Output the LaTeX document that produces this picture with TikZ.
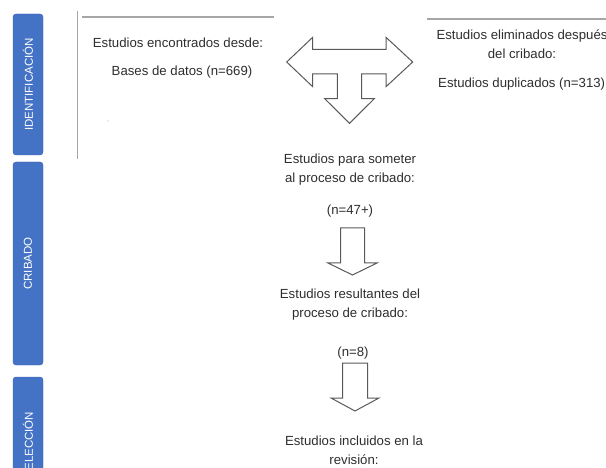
\documentclass[tikz,border=0pt]{standalone}
\usepackage{fontspec}
\setmainfont{Liberation Sans}
\usetikzlibrary{positioning}
\definecolor{barblue}{HTML}{4472C4}
\definecolor{bardark}{HTML}{3A62AD}
\definecolor{rulegray}{HTML}{A6A6A6}

\begin{document}
\begin{tikzpicture}[x=1pt,y=-1pt,
    phase/.style={rotate=90,fill=barblue,draw=bardark,rounded corners=3pt,
      minimum height=30pt,text=white,font=\fontsize{11.5}{13}\selectfont},
    info/.style={align=center,text=black!82,inner sep=0pt,
      font=\fontsize{13.2}{19}\selectfont},
    blockarrow/.style={draw=black!65,line width=1pt,fill=white}]
    \clip (0,0) rectangle (606,468);

    % Draw the phase bars
    \node[phase,minimum width=141pt] (ident) at (28,84.5) {IDENTIFICACIÓN};
    \node[phase,minimum width=203pt] (crib) at (28,263.5) {CRIBADO};
    \node[phase,minimum width=136pt] (selec) at (28,445) {SELECCIÓN};

    % Draw the separator lines
    \draw[rulegray,line width=0.8pt] (77,11) -- (77,159);
    \draw[rulegray,line width=2.5pt] (82,17) -- (274,17);
    \draw[rulegray,line width=2.5pt] (427,19) -- (606,19);

    % Identification texts
    \node[info] (found) at (178,43) {Estudios encontrados desde:};
    \node[info] (bases) at (182,72) {Bases de datos (n=669)};
    \fill[black!30] (108,121) circle (0.7);
    \node[info] (removed) at (522,44) {Estudios eliminados después\\del cribado:};
    \node[info,anchor=west] (dup) at (438,84) {Estudios duplicados (n=313)};

    % Draw the split arrow
    \draw[blockarrow] (286.7,62) -- (312.7,37.3) -- (312.7,49.3) -- (386,49.3)
      -- (386,37.3) -- (412.7,62) -- (386,86.7) -- (386,74) -- (361.7,74)
      -- (361.7,98.7) -- (374.3,98.7) -- (349.5,123.3) -- (324.7,98.7)
      -- (337.3,98.7) -- (337.3,74) -- (312.7,74) -- (312.7,86.7) -- cycle;

    % Screening texts
    \node[info] (submit) at (350,169.5) {Estudios para someter\\al proceso de cribado:};
    \node[info] (n47) at (350,211) {(n=47+)};

    % Draw the first down arrow
    \draw[blockarrow] (340.5,228) -- (364.5,228) -- (364.5,263) -- (377,263)
      -- (352.5,275) -- (328,263) -- (340.5,263) -- cycle;

    \node[info] (result) at (350,305) {Estudios resultantes del\\proceso de cribado:};
    \node[info] (n8) at (353,353) {(n=8)};

    % Draw the second down arrow
    \draw[blockarrow] (342.5,363) -- (367.5,363) -- (367.5,398) -- (379,398)
      -- (355,411) -- (331,398) -- (342.5,398) -- cycle;

    % Selection text
    \node[info] (incl) at (354,450) {Estudios incluidos en la\\revisión:};
\end{tikzpicture}
\end{document}
